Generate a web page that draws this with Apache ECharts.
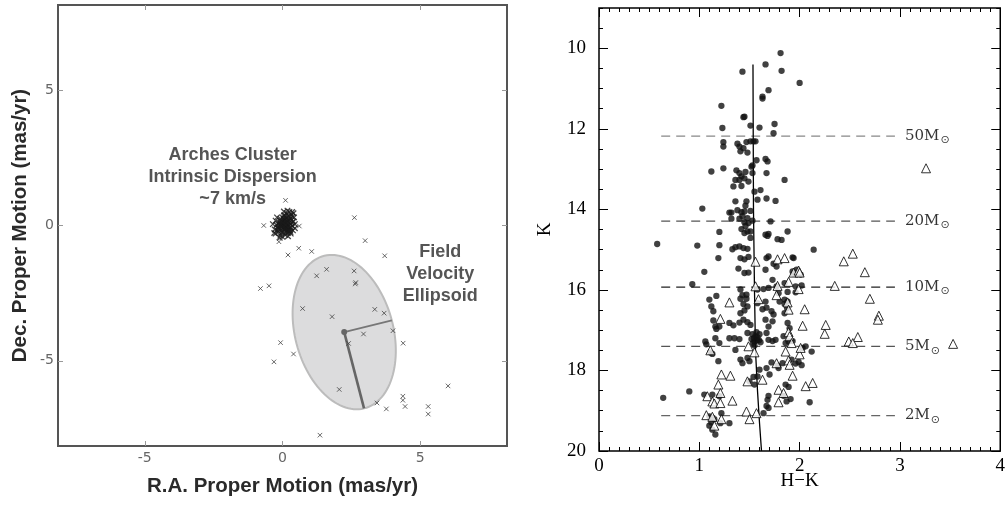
<!DOCTYPE html>
<html><head><meta charset="utf-8">
<script src="https://cdn.jsdelivr.net/npm/echarts@6/dist/echarts.min.js"></script>
<style>html,body{margin:0;padding:0;background:#fff}#c{width:1008px;height:510px}</style>
</head><body><div id="c"></div>
<script>
// ---------- Left panel data (mas/yr) ----------
var clusterPts = [[0.02,0.05],[-0.05,-0.02],[0.1,0.08],[0.15,-0.05],[-0.12,0.1],[0.05,-0.15],[0.2,0.15],[-0.18,-0.08],[0.08,0.22],[0.25,-0.1],[-0.08,0.25],[0.12,-0.25],[0.3,0.05],[-0.22,0.02],[0.0,0.3],[0.18,-0.2],[-0.15,-0.22],[0.28,0.25],[0.35,-0.02],[-0.25,0.18],[0.06,0.38],[0.22,0.35],[0.32,0.4],[0.4,0.15],[0.38,-0.18],[0.1,-0.35],[-0.05,-0.3],[-0.28,-0.15],[0.45,0.05],[0.15,0.45],[0.25,0.5],[0.05,0.52],[0.4,0.45],[0.42,0.3],[0.3,-0.3],[0.2,-0.4],[0.0,-0.42],[-0.1,-0.45],[-0.35,0.05],[-0.3,-0.28],[0.12,0.12],[0.03,-0.08],[-0.02,0.15],[0.17,0.02],[0.08,-0.02],[-0.1,0.0],[0.22,-0.02],[0.14,0.28],[-0.06,0.08],[0.26,0.1],[0.33,0.2],[-0.2,0.3],[0.1,-0.12],[-0.14,-0.12],[0.05,0.18],[0.19,-0.12],[-0.03,-0.18],[0.28,-0.18],[0.11,0.35],[0.45,-0.1],[0.36,0.32],[-0.25,-0.3],[0.18,0.55],[0.35,0.5],[-0.08,-0.38],[0.0,0.0],[0.07,0.1],[-0.04,0.04],[0.13,-0.08],[0.24,0.2],[-0.16,0.05],[0.04,0.25],[0.16,0.18],[0.2,-0.28],[-0.1,-0.15],[0.3,-0.08],[-0.02,-0.25],[0.09,0.3],[0.27,0.32],[-0.2,-0.18],[0.14,-0.18],[0.06,-0.06],[0.19,0.08],[-0.09,0.18],[0.23,-0.2],[0.01,0.1],[0.11,0.02],[-0.12,-0.05],[0.34,0.1],[0.29,-0.24]];
var fieldPts = [[0.11,0.93],[2.61,0.29],[-0.68,0.0],[0.61,-0.02],[-0.13,-0.60],[3.0,-0.56],[0.2,-1.09],[0.59,-0.84],[1.06,-0.96],[3.71,-1.12],[1.24,-1.86],[1.6,-1.62],[2.6,-1.68],[2.66,-2.11],[2.64,-2.16],[-0.8,-2.33],[-0.49,-2.23],[0.73,-3.07],[1.8,-3.37],[3.35,-3.1],[3.69,-3.24],[4.01,-3.89],[2.94,-4.01],[2.4,-4.36],[4.38,-4.35],[-0.07,-4.33],[0.4,-4.75],[-0.31,-5.04],[2.06,-6.06],[6.01,-5.93],[3.43,-6.56],[3.77,-6.78],[4.37,-6.31],[4.37,-6.46],[4.45,-6.69],[5.29,-6.69],[5.29,-6.97],[1.36,-7.75]];
var ellipseCenter = [2.24, -3.94];
var ellipseMajorEnd = [2.96, -6.76];
var ellipseMinorEnd = [3.97, -3.51];
var leftTicks = [-5, 0, 5];

// ---------- Right panel data (H-K, K) ----------
var dots = [[1.81,10.12],[1.66,10.40],[1.43,10.58],[1.82,10.56],[2.0,10.86],[1.69,11.04],[1.63,11.2],[1.63,11.25],[1.22,11.43],[1.44,11.71],[1.45,11.70],[1.51,11.92],[1.6,11.97],[1.23,11.98],[1.75,11.88],[1.74,12.11],[1.24,12.33],[1.24,12.44],[1.38,12.37],[1.40,12.44],[1.41,12.56],[1.47,12.33],[1.51,12.31],[1.54,12.31],[1.56,12.31],[1.48,12.59],[1.44,12.48],[1.57,12.78],[1.66,12.75],[1.68,12.81],[1.12,13.06],[1.24,12.98],[1.52,12.94],[1.53,12.91],[1.67,13.1],[1.85,13.27],[1.37,13.03],[1.4,13.1],[1.42,13.18],[1.46,13.07],[1.36,13.27],[1.4,13.27],[1.45,13.23],[1.49,13.31],[1.34,13.43],[1.42,13.42],[1.53,13.1],[1.55,13.56],[1.61,13.52],[1.58,13.76],[1.67,13.73],[1.76,13.79],[1.36,13.8],[1.47,13.8],[1.46,13.91],[1.03,13.98],[1.3,14.08],[1.32,14.08],[1.42,14.07],[1.38,14.02],[1.45,14.05],[1.51,14.04],[1.32,14.23],[1.4,14.23],[1.43,14.17],[1.48,14.22],[1.45,14.32],[1.49,14.34],[1.53,14.28],[1.71,14.3],[1.2,14.56],[1.42,14.49],[1.46,14.41],[1.48,14.55],[1.51,14.71],[1.51,14.55],[1.45,14.59],[1.66,14.63],[1.68,14.66],[1.69,14.61],[1.78,14.74],[1.82,14.76],[1.88,14.55],[1.2,14.89],[1.33,14.99],[1.36,14.94],[1.4,14.92],[1.44,14.96],[1.48,14.98],[0.58,14.86],[0.98,14.9],[2.14,15.0],[1.19,15.21],[1.41,15.21],[1.45,15.24],[1.49,15.18],[1.67,15.21],[1.69,15.17],[1.93,15.19],[1.94,15.21],[1.74,15.35],[1.66,15.5],[1.77,15.42],[1.39,15.47],[1.45,15.58],[1.49,15.57],[1.05,15.55],[1.93,15.54],[1.97,15.5],[0.93,15.86],[1.94,15.6],[2.01,15.62],[1.96,15.91],[2.02,15.89],[1.73,15.75],[1.77,15.91],[1.85,15.83],[1.64,15.98],[1.69,15.95],[1.58,15.99],[1.79,16.08],[1.88,16.05],[1.41,15.99],[1.43,16.13],[1.47,16.12],[1.1,16.24],[1.17,16.15],[1.41,16.22],[1.44,16.35],[1.47,16.22],[1.58,16.33],[1.66,16.29],[1.8,16.29],[1.85,16.24],[1.88,16.29],[1.96,16.06],[1.85,16.35],[1.875,16.45],[1.12,16.41],[1.14,16.53],[1.41,16.58],[1.45,16.51],[1.48,16.41],[1.63,16.48],[1.67,16.44],[1.72,16.53],[1.74,16.61],[1.85,16.58],[1.14,16.76],[1.16,16.91],[1.17,16.97],[1.2,16.91],[1.3,16.82],[1.34,16.88],[1.4,16.81],[1.44,16.74],[1.48,16.8],[1.51,16.87],[1.66,16.74],[1.69,16.91],[1.73,16.78],[1.88,16.82],[1.9,16.95],[1.06,17.28],[1.07,17.35],[1.16,17.2],[1.2,17.32],[1.3,17.2],[1.35,17.2],[1.4,17.22],[1.48,17.07],[1.53,17.1],[1.545,17.2],[1.56,17.15],[1.575,17.25],[1.55,17.28],[1.535,17.32],[1.6,17.1],[1.595,17.25],[1.57,17.05],[1.55,17.38],[1.58,17.18],[1.52,17.22],[1.61,17.3],[1.67,17.07],[1.69,17.24],[1.73,17.27],[1.76,17.24],[1.84,17.15],[1.86,17.32],[1.89,17.28],[1.93,17.27],[2.03,17.44],[2.06,17.4],[2.12,17.53],[1.11,17.55],[1.13,17.59],[1.19,17.77],[1.36,17.49],[1.41,17.73],[1.43,17.82],[1.48,17.69],[1.5,17.77],[1.72,17.8],[1.78,17.88],[1.79,17.94],[1.83,17.82],[1.92,17.73],[1.96,17.83],[1.99,17.79],[2.02,17.87],[1.6,17.98],[1.67,17.94],[1.7,18.1],[1.54,18.16],[1.58,18.15],[1.5,18.27],[1.55,18.35],[1.86,18.35],[1.89,18.41],[1.69,18.63],[1.68,18.73],[1.84,18.63],[1.87,18.77],[1.91,18.71],[0.9,18.52],[0.64,18.68],[1.05,18.6],[1.13,18.6],[1.2,18.64],[2.1,18.79],[1.67,18.88],[1.69,18.93],[1.64,19.06],[1.1,19.14],[1.12,19.29],[1.22,19.06],[1.15,19.21],[1.3,19.31],[1.16,19.59],[1.1,19.37],[1.13,19.47],[1.21,19.31]];
var triangles = [[3.26,12.98],[2.44,15.29],[2.53,15.1],[2.65,15.56],[2.35,15.9],[2.7,16.22],[2.79,16.64],[2.78,16.74],[2.26,16.87],[2.25,17.09],[2.58,17.17],[2.49,17.28],[2.53,17.32],[3.53,17.34],[1.56,15.3],[1.78,15.24],[1.85,15.21],[1.94,15.57],[1.99,15.52],[2.0,15.57],[1.89,15.8],[1.78,15.9],[1.56,15.91],[1.99,15.98],[1.77,16.13],[1.59,16.23],[1.88,16.31],[2.05,16.48],[1.89,16.49],[1.3,16.31],[1.21,16.72],[2.03,16.89],[1.89,17.05],[1.9,17.15],[1.92,17.32],[1.49,17.4],[1.11,17.5],[1.55,17.55],[1.86,17.53],[2.0,17.6],[2.01,17.44],[1.89,17.75],[1.9,17.86],[1.77,17.82],[1.93,18.13],[1.63,18.23],[1.48,18.27],[1.22,18.1],[1.31,18.13],[1.19,18.35],[2.06,18.39],[2.13,18.31],[1.79,18.48],[1.84,18.56],[1.21,18.56],[1.08,18.64],[1.13,18.77],[1.15,18.82],[1.21,18.81],[1.33,18.75],[1.79,18.79],[1.07,19.11],[1.13,19.15],[1.22,19.21],[1.15,19.37],[1.47,19.02],[1.5,19.21],[1.57,19.06]];
var isochrone = [[1.535,10.4],[1.54,14.0],[1.55,16.0],[1.56,17.5],[1.58,18.5],[1.6,19.3],[1.62,20.0]];
var massK = [12.18, 14.29, 15.93, 17.40, 19.12];
var massNames = ['50M', '20M', '10M', '5M', '2M'];
var massColors = ['#888', '#555', '#222', '#555', '#666'];
var dashStartX = 0.62, dashEndX = 2.95, massLabelX = 3.05;
var rightXLabels = [0, 1, 2, 3, 4];
var rightYLabels = [10, 12, 14, 16, 18, 20];

// tick positions
var xMinor = []; for (var i = 0; i <= 40; i++) xMinor.push(+(i * 0.1).toFixed(1));
var yMinor = []; for (var j = 0; j <= 22; j++) yMinor.push(9 + j * 0.5);

var chart = echarts.init(document.getElementById('c'));

var sansBold = 'Liberation Sans, Arial, sans-serif';
var serif = 'Liberation Serif, DejaVu Serif, serif';

function tickAxis(base, extra) { return Object.assign({}, base, extra); }

var noLine = {show:false, onZero:false};
var leftX = {type:'value', gridIndex:0, min:-8.15, max:8.15, splitLine:{show:false}, axisLine:noLine};
var leftY = {type:'value', gridIndex:0, min:-8.15, max:8.15, splitLine:{show:false}, axisLine:noLine};
var rightX = {type:'value', gridIndex:1, min:0, max:4, splitLine:{show:false}, axisLine:noLine};
var rightY = {type:'value', gridIndex:1, min:9, max:20, inverse:true, splitLine:{show:false}, axisLine:noLine};

var xAxes = [
  tickAxis(leftX, {position:'bottom', axisTick:{inside:true, length:5, customValues:leftTicks, lineStyle:{color:'#999'}},
    axisLabel:{customValues:leftTicks, color:'#666', fontSize:14, fontFamily:'DejaVu Sans', margin:5},
    name:'R.A. Proper Motion (mas/yr)', nameLocation:'middle', nameGap:30,
    nameTextStyle:{fontFamily:sansBold, fontWeight:'bold', fontSize:20.5, color:'#2a2a2a'}}),
  tickAxis(leftX, {position:'top', axisTick:{inside:true, length:5, customValues:leftTicks, lineStyle:{color:'#999'}}, axisLabel:{show:false}}),
  tickAxis(rightX, {position:'bottom', axisTick:{inside:true, length:4, customValues:xMinor, lineStyle:{color:'#000'}},
    axisLabel:{customValues:rightXLabels, color:'#000', fontSize:19, fontFamily:serif, margin:6},
    name:'H\u2212K', nameLocation:'middle', nameGap:21, nameMoveOverlap:false,
    nameTextStyle:{fontFamily:serif, fontSize:19, color:'#000'}}),
  tickAxis(rightX, {position:'bottom', axisTick:{inside:true, length:9, customValues:rightXLabels, lineStyle:{color:'#000'}}, axisLabel:{show:false}}),
  tickAxis(rightX, {position:'top', axisTick:{inside:true, length:4, customValues:xMinor, lineStyle:{color:'#000'}}, axisLabel:{show:false}}),
  tickAxis(rightX, {position:'top', axisTick:{inside:true, length:9, customValues:rightXLabels, lineStyle:{color:'#000'}}, axisLabel:{show:false}})
];
var yAxes = [
  tickAxis(leftY, {position:'left', axisTick:{inside:true, length:5, customValues:leftTicks, lineStyle:{color:'#999'}},
    axisLabel:{customValues:leftTicks, color:'#666', fontSize:14, fontFamily:'DejaVu Sans', margin:4},
    name:'Dec. Proper Motion (mas/yr)', nameLocation:'middle', nameGap:27,
    nameTextStyle:{fontFamily:sansBold, fontWeight:'bold', fontSize:20.5, color:'#2a2a2a'}}),
  tickAxis(leftY, {position:'right', axisTick:{inside:true, length:5, customValues:leftTicks, lineStyle:{color:'#999'}}, axisLabel:{show:false}}),
  tickAxis(rightY, {position:'left', axisTick:{inside:true, length:4, customValues:yMinor, lineStyle:{color:'#000'}},
    axisLabel:{customValues:rightYLabels, color:'#000', fontSize:19, fontFamily:serif, margin:13},
    name:'K', nameLocation:'middle', nameGap:44,
    nameTextStyle:{fontFamily:serif, fontSize:19, color:'#000'}}),
  tickAxis(rightY, {position:'left', axisTick:{inside:true, length:9, customValues:rightYLabels, lineStyle:{color:'#000'}}, axisLabel:{show:false}}),
  tickAxis(rightY, {position:'right', axisTick:{inside:true, length:4, customValues:yMinor, lineStyle:{color:'#000'}}, axisLabel:{show:false}}),
  tickAxis(rightY, {position:'right', axisTick:{inside:true, length:9, customValues:rightYLabels, lineStyle:{color:'#000'}}, axisLabel:{show:false}})
];

var crossSymbol = 'path://M0,0L10,10M10,0L0,10';

var series = [
  {type:'custom', xAxisIndex:0, yAxisIndex:0, z:1, silent:true,
    data:[[ellipseCenter[0], ellipseCenter[1]]],
    renderItem:function(params, api){
      var c = ellipseCenter, M = [ellipseMajorEnd[0]-c[0], ellipseMajorEnd[1]-c[1]], m = [ellipseMinorEnd[0]-c[0], ellipseMinorEnd[1]-c[1]];
      var pts = [];
      for (var k = 0; k < 120; k++) {
        var t = k / 120 * Math.PI * 2;
        pts.push(api.coord([c[0] + Math.cos(t)*M[0] + Math.sin(t)*m[0], c[1] + Math.cos(t)*M[1] + Math.sin(t)*m[1]]));
      }
      var pc = api.coord(c), pM = api.coord(ellipseMajorEnd), pm = api.coord(ellipseMinorEnd);
      return {type:'group', children:[
        {type:'polygon', shape:{points:pts}, style:{fill:'#dcdcdd', stroke:'#bcbcbc', lineWidth:2}},
        {type:'line', shape:{x1:pc[0], y1:pc[1], x2:pM[0], y2:pM[1]}, style:{stroke:'#666', lineWidth:2.6}},
        {type:'line', shape:{x1:pc[0], y1:pc[1], x2:pm[0], y2:pm[1]}, style:{stroke:'#777', lineWidth:1.8}},
        {type:'circle', shape:{cx:pc[0], cy:pc[1], r:3}, style:{fill:'#666'}}
      ]};
    }},
  {type:'scatter', xAxisIndex:0, yAxisIndex:0, z:3, data:clusterPts, symbol:crossSymbol, symbolSize:5.5,
    itemStyle:{color:'transparent', borderColor:'#1a1a1a', borderWidth:1.3}},
  {type:'scatter', xAxisIndex:0, yAxisIndex:0, z:3, data:fieldPts, symbol:crossSymbol, symbolSize:4.5,
    itemStyle:{color:'transparent', borderColor:'#444', borderWidth:1}},
  {type:'scatter', xAxisIndex:0, yAxisIndex:0, z:4, symbolSize:0, silent:true,
    data:[{value:[-1.81,1.8], label:{formatter:'Arches Cluster\nIntrinsic Dispersion\n~7 km/s'}},
          {value:[5.73,-1.81], label:{formatter:'Field\nVelocity\nEllipsoid'}}],
    label:{show:true, position:'inside', align:'center', verticalAlign:'middle', fontFamily:sansBold, fontWeight:'bold', fontSize:18, lineHeight:22, color:'#2a2a2a'}}
];

massK.forEach(function(k, idx){
  series.push({type:'line', xAxisIndex:2, yAxisIndex:2, data:[[dashStartX,k],[dashEndX,k]], symbol:'none', silent:true,
    lineStyle:{color:massColors[idx], width:1.2, type:[9,6]}, z:2});
});
series.push({type:'scatter', xAxisIndex:2, yAxisIndex:2, symbolSize:0, silent:true,
  data:massK.map(function(k, idx){ return {value:[massLabelX, k], name:massNames[idx]}; }),
  label:{show:true, position:'right', distance:0, formatter:function(p){ return '{a|' + p.name + '}{b|\u2299}'; },
    rich:{a:{fontFamily:'DejaVu Serif', fontSize:15, color:'#000'}, b:{fontFamily:'DejaVu Sans', fontSize:11, color:'#000', padding:[9,0,0,1]}}}});
series.push({type:'line', xAxisIndex:2, yAxisIndex:2, data:isochrone, symbol:'none', silent:true, lineStyle:{color:'#000', width:1.3}, z:3});
series.push({type:'scatter', xAxisIndex:2, yAxisIndex:2, data:dots, symbol:'circle', symbolSize:6.3, itemStyle:{color:'#111'}, z:4});
series.push({type:'scatter', xAxisIndex:2, yAxisIndex:2, data:triangles, symbol:'triangle', symbolSize:9,
  itemStyle:{color:'#fff', borderColor:'#000', borderWidth:1}, z:5});

chart.setOption({
  animation:false,
  backgroundColor:'#fff',
  grid:[
    {left:58, top:5, width:449, height:441, show:true, borderColor:'#555', borderWidth:2, backgroundColor:'transparent'},
    {left:599, top:8, width:403, height:443, show:true, borderColor:'#000', borderWidth:1.5, backgroundColor:'transparent'}
  ],
  xAxis:xAxes,
  yAxis:yAxes,
  series:series
});
</script></body></html>
